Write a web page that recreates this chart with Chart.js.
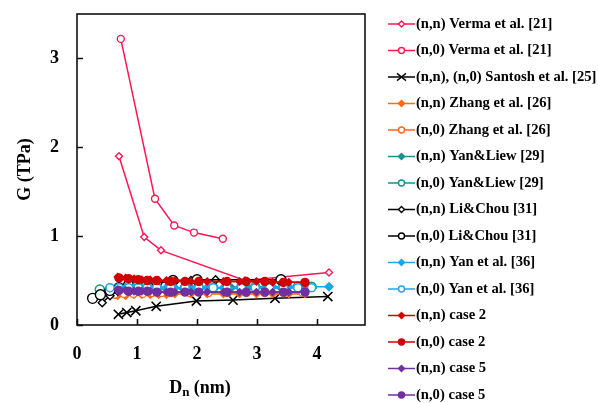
<!DOCTYPE html>
<html>
<head>
<meta charset="utf-8">
<script src="https://cdn.jsdelivr.net/npm/chart.js@4.4.1/dist/chart.umd.min.js"></script>
<style>
  html, body { margin: 0; padding: 0; background: #fff; }
  #wrap { width: 598px; height: 403px; }
</style>
</head>
<body>
<div id="wrap"><canvas id="shearChart" width="598" height="403"></canvas></div>
<script>
// Shear modulus G (TPa) against tube diameter Dn (nm)
const vermaNN_x = [0.70, 1.12, 1.40, 2.80, 4.20];
const vermaNN_y = [1.90, 0.99, 0.84, 0.50, 0.59];
const vermaN0_x = [0.73, 1.30, 1.62, 1.95, 2.43];
const vermaN0_y = [3.22, 1.42, 1.12, 1.04, 0.97];
const santosh_x = [0.69, 0.83, 0.98, 1.32, 1.99, 2.60, 3.30, 4.18];
const santosh_y = [0.12, 0.14, 0.16, 0.21, 0.27, 0.28, 0.30, 0.32];
const zhangNN_x = [0.68, 0.81, 0.95, 1.08, 1.22, 1.36, 1.49, 1.63, 1.90, 2.17, 2.44, 2.71, 2.99, 3.26, 3.53, 3.80];
const zhangNN_y = [0.33, 0.33, 0.34, 0.34, 0.34, 0.34, 0.34, 0.35, 0.35, 0.35, 0.35, 0.35, 0.35, 0.35, 0.35, 0.35];
const zhangN0_x = [0.63, 0.78, 0.94, 1.10, 1.25, 1.41, 1.57, 1.88, 2.19, 2.51, 2.82, 3.13, 3.45, 3.76];
const zhangN0_y = [0.34, 0.35, 0.35, 0.35, 0.36, 0.36, 0.36, 0.36, 0.36, 0.36, 0.36, 0.36, 0.36, 0.36];
const yanLiewNN_x = [0.68, 0.95, 1.22, 1.49, 1.76, 2.03, 2.30, 2.58, 2.85, 3.12, 3.39, 3.66, 3.93];
const yanLiewNN_y = [0.40, 0.41, 0.41, 0.41, 0.41, 0.42, 0.42, 0.42, 0.42, 0.42, 0.42, 0.42, 0.42];
const yanLiewN0_x = [0.38, 0.55, 0.70, 0.86, 1.02, 1.17, 1.33, 1.56, 1.80, 2.03, 2.27, 2.50, 2.74, 2.97, 3.21, 3.44, 3.68, 3.91];
const yanLiewN0_y = [0.40, 0.40, 0.41, 0.41, 0.41, 0.42, 0.42, 0.42, 0.42, 0.42, 0.42, 0.42, 0.43, 0.43, 0.43, 0.43, 0.43, 0.43];
const liChouNN_x = [0.42, 0.55, 0.68, 0.81, 0.95, 1.08, 1.22, 1.36, 1.63, 1.90, 2.31];
const liChouNN_y = [0.25, 0.33, 0.38, 0.42, 0.44, 0.46, 0.47, 0.48, 0.49, 0.50, 0.51];
const liChouN0_x = [0.26, 0.39, 0.55, 0.70, 0.86, 1.02, 1.17, 1.33, 1.60, 2.00, 3.40];
const liChouN0_y = [0.30, 0.34, 0.39, 0.42, 0.45, 0.46, 0.47, 0.48, 0.50, 0.51, 0.51];
const yanNN_x = [0.54, 0.68, 0.81, 0.95, 1.08, 1.22, 1.36, 1.49, 1.63, 1.90, 2.17, 2.44, 2.71, 2.99, 3.26, 3.53, 3.80, 4.20];
const yanNN_y = [0.42, 0.42, 0.42, 0.42, 0.42, 0.42, 0.42, 0.42, 0.42, 0.42, 0.42, 0.42, 0.42, 0.43, 0.43, 0.43, 0.43, 0.43];
const yanN0_x = [0.55, 0.70, 0.86, 1.02, 1.17, 1.33, 1.56, 1.80, 2.03, 2.27, 2.50, 2.74, 2.97, 3.21, 3.44, 3.68, 3.91];
const yanN0_y = [0.42, 0.42, 0.42, 0.42, 0.42, 0.42, 0.42, 0.42, 0.42, 0.42, 0.42, 0.42, 0.42, 0.42, 0.42, 0.42, 0.42];
const case2NN_x = [0.68, 0.81, 0.95, 1.08, 1.22, 1.36, 1.49, 1.63, 1.90, 2.17, 2.44, 2.71, 2.99, 3.26, 3.53, 3.80];
const case2NN_y = [0.54, 0.53, 0.52, 0.51, 0.51, 0.50, 0.50, 0.50, 0.49, 0.49, 0.49, 0.49, 0.49, 0.48, 0.48, 0.48];
const case2N0_x = [0.70, 0.86, 1.02, 1.17, 1.33, 1.56, 1.80, 2.03, 2.50, 2.82, 3.13, 3.44, 3.80];
const case2N0_y = [0.53, 0.52, 0.51, 0.50, 0.50, 0.49, 0.49, 0.49, 0.49, 0.49, 0.49, 0.48, 0.48];
const case5NN_x = [0.68, 0.81, 0.95, 1.08, 1.22, 1.36, 1.49, 1.63, 1.90, 2.17, 2.44, 2.71, 2.99, 3.26, 3.53, 3.80];
const case5NN_y = [0.40, 0.39, 0.38, 0.38, 0.38, 0.37, 0.37, 0.37, 0.37, 0.37, 0.37, 0.37, 0.37, 0.37, 0.37, 0.37];
const case5N0_x = [0.70, 0.86, 1.02, 1.17, 1.33, 1.56, 1.80, 2.03, 2.50, 2.82, 3.13, 3.44, 3.80];
const case5N0_y = [0.39, 0.38, 0.38, 0.38, 0.37, 0.37, 0.37, 0.37, 0.37, 0.37, 0.37, 0.37, 0.37];

const xTicks = [0, 1, 2, 3, 4];
const yTicks = [0, 1, 2, 3];

const PINK = '#ff1654', ORANGE = '#ff6a13', TEAL = '#10968a', CYAN = '#18a8e6',
      RED = '#d00000', PURPLE = '#7030a0', BLACK = '#000000';
const SERIF = '"Liberation Serif", "DejaVu Serif", serif';

function series(label, xs, ys, color, style, radius, filled) {
    return {
        label: label,
        data: xs.map((x, i) => ({ x: x, y: ys[i] })),
        borderColor: color,
        backgroundColor: filled ? color : '#fff',
        pointBackgroundColor: filled ? color : '#fff',
        pointBorderColor: color,
        pointStyle: style,
        pointRadius: radius,
        pointBorderWidth: style === 'crossRot' ? 1.6 : 1.4,
        borderWidth: 1.5,
        showLine: true,
        tension: 0
    };
}

const datasets = [
    series('(n,n) Verma et al. [21]', vermaNN_x, vermaNN_y, PINK, 'rectRot', 3.5, false),
    series('(n,0) Verma et al. [21]', vermaN0_x, vermaN0_y, PINK, 'circle', 3.5, false),
    series('(n,n), (n,0) Santosh et al. [25]', santosh_x, santosh_y, BLACK, 'crossRot', 6.5, false),
    series('(n,n) Zhang et al. [26]', zhangNN_x, zhangNN_y, ORANGE, 'rectRot', 3.5, true),
    series('(n,0) Zhang et al. [26]', zhangN0_x, zhangN0_y, ORANGE, 'circle', 3.5, false),
    series('(n,n) Yan&Liew [29]', yanLiewNN_x, yanLiewNN_y, TEAL, 'rectRot', 3.5, true),
    series('(n,0) Yan&Liew [29]', yanLiewN0_x, yanLiewN0_y, TEAL, 'circle', 4.5, false),
    series('(n,n) Li&Chou [31]', liChouNN_x, liChouNN_y, BLACK, 'rectRot', 4, false),
    series('(n,0) Li&Chou [31]', liChouN0_x, liChouN0_y, BLACK, 'circle', 5, false),
    series('(n,n) Yan et al. [36]', yanNN_x, yanNN_y, CYAN, 'rectRot', 4, true),
    series('(n,0) Yan et al. [36]', yanN0_x, yanN0_y, CYAN, 'circle', 4, false),
    series('(n,n) case 2', case2NN_x, case2NN_y, RED, 'rectRot', 3.5, true),
    series('(n,0) case 2', case2N0_x, case2N0_y, RED, 'circle', 4, true),
    series('(n,n) case 5', case5NN_x, case5NN_y, PURPLE, 'rectRot', 3.5, true),
    series('(n,0) case 5', case5N0_x, case5N0_y, PURPLE, 'circle', 4, true)
];
// later series are painted over earlier ones
datasets.forEach((d, i) => { d.order = datasets.length - i; });

function drawMarker(ctx, style, x, y, r) {
    ctx.beginPath();
    if (style === 'circle') {
        ctx.arc(x, y, r, 0, Math.PI * 2);
        ctx.fill(); ctx.stroke();
    } else if (style === 'rectRot') {
        ctx.moveTo(x, y - r); ctx.lineTo(x + r, y); ctx.lineTo(x, y + r); ctx.lineTo(x - r, y);
        ctx.closePath(); ctx.fill(); ctx.stroke();
    } else {
        const d = r;
        ctx.moveTo(x - d, y - d * 0.8); ctx.lineTo(x + d, y + d * 0.8);
        ctx.moveTo(x + d, y - d * 0.8); ctx.lineTo(x - d, y + d * 0.8);
        ctx.stroke();
    }
}

// frame, inward ticks, axis titles and the line+marker legend
const decorations = {
    id: 'decorations',
    afterDraw(chart) {
        const ctx = chart.ctx;
        const a = chart.chartArea;
        const xs = chart.scales.x, ys = chart.scales.y;
        ctx.save();
        ctx.strokeStyle = '#111';
        ctx.lineWidth = 1.6;
        ctx.strokeRect(a.left, a.top, a.right - a.left, a.bottom - a.top);
        ctx.beginPath();
        xTicks.forEach(v => {
            const px = Math.round(xs.getPixelForValue(v)) + 0.5;
            ctx.moveTo(px, a.bottom); ctx.lineTo(px, a.bottom - 6);
        });
        yTicks.forEach(v => {
            const py = Math.round(ys.getPixelForValue(v)) + 0.5;
            ctx.moveTo(a.left, py); ctx.lineTo(a.left + 6, py);
        });
        ctx.stroke();

        // axis titles
        ctx.fillStyle = '#000';
        ctx.font = 'bold 18px ' + SERIF;
        ctx.textBaseline = 'middle';
        ctx.save();
        ctx.translate(25, (a.top + a.bottom) / 2);
        ctx.rotate(-Math.PI / 2);
        ctx.textAlign = 'center';
        ctx.fillText('G (TPa)', 0, 0);
        ctx.restore();

        const main = 'D', sub = 'n', rest = ' (nm)';
        ctx.font = 'bold 18px ' + SERIF;
        const wMain = ctx.measureText(main).width, wRest = ctx.measureText(rest).width;
        ctx.font = 'bold 13px ' + SERIF;
        const wSub = ctx.measureText(sub).width;
        let tx = 200 - (wMain + wSub + wRest) / 2;
        const ty = 388;
        ctx.textAlign = 'left';
        ctx.font = 'bold 18px ' + SERIF;
        ctx.fillText(main, tx, ty);
        ctx.font = 'bold 13px ' + SERIF;
        ctx.fillText(sub, tx + wMain, ty + 5);
        ctx.font = 'bold 18px ' + SERIF;
        ctx.fillText(rest, tx + wMain + wSub, ty);

        // legend
        ctx.font = 'bold 14.6px ' + SERIF;
        chart.data.datasets.forEach((d, i) => {
            const y = 24 + i * 26.5;
            ctx.strokeStyle = d.borderColor;
            ctx.lineWidth = 1.5;
            ctx.beginPath();
            ctx.moveTo(388, y); ctx.lineTo(415, y);
            ctx.stroke();
            ctx.fillStyle = d.pointBackgroundColor;
            ctx.lineWidth = 1.4;
            drawMarker(ctx, d.pointStyle, 401.5, y, d.pointStyle === 'crossRot' ? 4.5 : 3);
            ctx.fillStyle = '#000';
            ctx.fillText(d.label, 416, y);
        });
        ctx.restore();
    }
};

function noScalePadding(s) {
    s.paddingTop = 0; s.paddingBottom = 0; s.paddingLeft = 0; s.paddingRight = 0;
}

new Chart(document.getElementById('shearChart'), {
    type: 'scatter',
    data: { datasets: datasets },
    plugins: [decorations],
    options: {
        responsive: false,
        animation: false,
        devicePixelRatio: 1,
        layout: { padding: { left: 0, top: 14, right: 233, bottom: 0 } },
        plugins: { legend: { display: false }, tooltip: { enabled: false } },
        scales: {
            x: {
                type: 'linear', min: 0, max: 4.8,
                afterFit(s) { s.height = 78; noScalePadding(s); },
                afterBuildTicks(s) { s.ticks = xTicks.map(v => ({ value: v })); },
                grid: { display: false },
                border: { display: false },
                ticks: { padding: 11, color: '#000', font: { family: SERIF, size: 18, weight: 'bold' } }
            },
            y: {
                type: 'linear', min: 0, max: 3.5,
                afterFit(s) { s.width = 77; noScalePadding(s); },
                afterBuildTicks(s) { s.ticks = yTicks.map(v => ({ value: v })); },
                grid: { display: false },
                border: { display: false },
                ticks: { padding: 10, color: '#000', font: { family: SERIF, size: 18, weight: 'bold' } }
            }
        }
    }
});
</script>
</body>
</html>
